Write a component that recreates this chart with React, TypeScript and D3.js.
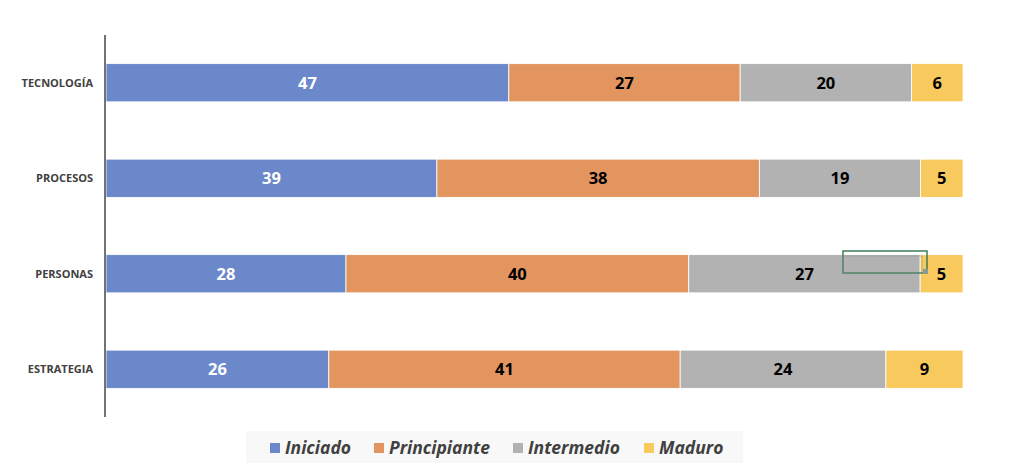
import React from "react";
import * as d3 from "d3";

const categories = ["TECNOLOGÍA", "PROCESOS", "PERSONAS", "ESTRATEGIA"];
const seriesNames = ["Iniciado", "Principiante", "Intermedio", "Maduro"];
const iniciado = [47, 39, 28, 26];
const principiante = [27, 38, 40, 41];
const intermedio = [20, 19, 27, 24];
const maduro = [6, 5, 5, 9];
const colors = ["#6B88CB", "#E3955F", "#B2B2B2", "#F8CA5E"];
const labelColors = ["#ffffff", "#000000", "#000000", "#000000"];

const W = 1024;
const H = 476;
const font = "'Open Sans', Calibri, sans-serif";

export default function App() {
  const rows = categories.map((c, i) => ({
    cat: c,
    Iniciado: iniciado[i],
    Principiante: principiante[i],
    Intermedio: intermedio[i],
    Maduro: maduro[i],
  }));
  // barras apiladas al 100%
  const stacked = d3.stack<any>().keys(seriesNames).offset(d3.stackOffsetExpand)(rows);

  const x = d3.scaleLinear().domain([0, 1]).range([106, 963]);
  const y = d3.scaleBand<string>().domain(categories).range([35, 417]).paddingInner(0.6).paddingOuter(0.3);

  const legendX = [270, 374, 513, 644];

  return (
    <svg width={W} height={H} style={{ position: "absolute", left: 0, top: 0, background: "#fff" }}>
      {/* barras */}
      {stacked.map((s, si) => (
        <g key={s.key}>
          {s.map((d, i) => {
            const x0 = x(d[0]);
            const x1 = x(d[1]);
            const yy = y(categories[i])!;
            return (
              <g key={i}>
                <rect x={x0} y={yy} width={x1 - x0} height={y.bandwidth()} fill={colors[si]} stroke="#fff" strokeWidth={0.8} />
                <text
                  x={(x0 + x1) / 2}
                  y={yy + y.bandwidth() / 2}
                  dy="0.36em"
                  textAnchor="middle"
                  fontFamily={font}
                  fontWeight={700}
                  fontSize={16.5}
                  fill={labelColors[si]}
                >
                  {(d.data as any)[s.key]}
                </text>
              </g>
            );
          })}
        </g>
      ))}

      {/* eje vertical */}
      <line x1={105} x2={105} y1={35} y2={417} stroke="#444" strokeWidth={1.5} />
      {categories.map((c) => (
        <text
          key={c}
          x={93}
          y={y(c)! + y.bandwidth() / 2}
          dy="0.35em"
          textAnchor="end"
          fontFamily={font}
          fontWeight={700}
          fontSize={11}
          fill="#404040"
        >
          {c}
        </text>
      ))}

      {/* marco de selección */}
      <rect x={843} y={251} width={84} height={22} fill="none" stroke="#3f7d58" strokeWidth={1.5} />
      <rect x={843} y={256} width={79} height={17} fill="none" stroke="#8a9a90" strokeWidth={1} opacity={0.6} />
      <rect x={923} y={269} width={5} height={5} fill="#8a9a90" />

      {/* leyenda */}
      <rect x={246} y={431} width={497} height={32} fill="#f8f8f8" />
      {seriesNames.map((n, i) => (
        <g key={n}>
          <rect x={legendX[i]} y={443} width={10} height={10} fill={colors[i]} />
          <text
            x={legendX[i] + 15}
            y={454}
            fontFamily={font}
            fontWeight={700}
            fontStyle="italic"
            fontSize={17.5}
            fill="#404040"
          >
            {n}
          </text>
        </g>
      ))}
    </svg>
  );
}
